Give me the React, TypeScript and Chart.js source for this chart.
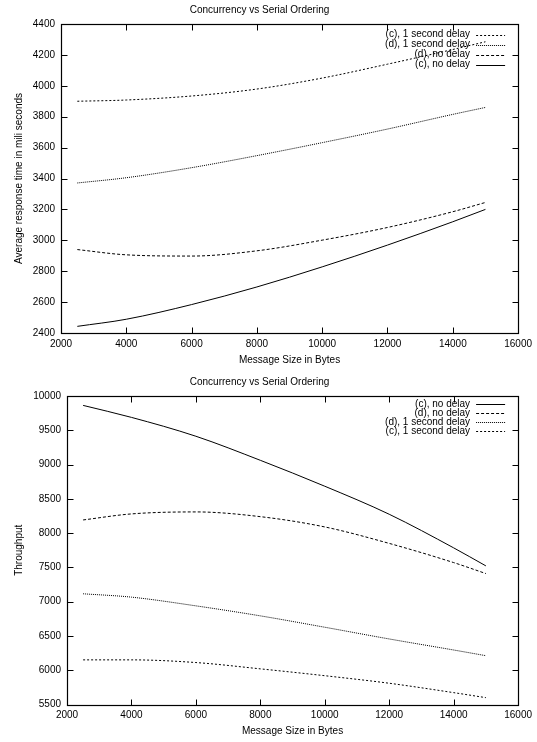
import React, { useEffect, useRef } from "react";
import { Chart, registerables } from "chart.js";

Chart.register(...registerables);

// ---- data ----
const messageSizes = [2500, 4000, 6000, 8000, 10000, 12000, 14000, 15000];

// Chart 1: Average response time (ms)
const respC1s = [3900, 3908, 3934, 3979, 4050, 4140, 4235, 4285];
const respD1s = [3371, 3405, 3470, 3548, 3632, 3720, 3815, 3860];
const respDNo = [2940, 2906, 2898, 2932, 3001, 3083, 3185, 3245];
const respCNo = [2443, 2489, 2584, 2698, 2828, 2969, 3120, 3200];

// Chart 2: Throughput
const thrCNo = [9863, 9688, 9413, 9062, 8684, 8275, 7785, 7522];
const thrDNo = [8192, 8280, 8309, 8240, 8090, 7850, 7570, 7410];
const thrD1s = [7115, 7066, 6939, 6793, 6627, 6456, 6295, 6212];
const thrC1s = [6151, 6151, 6112, 6020, 5920, 5810, 5673, 5600];

const labelC1s = "(c), 1 second delay";
const labelD1s = "(d), 1 second delay";
const labelDNo = "(d), no delay";
const labelCNo = "(c), no delay";

const chartTitle = "Concurrency vs Serial Ordering";
const xTitle = "Message Size in Bytes";
const yTitle1 = "Average response time in mili seconds";
const yTitle2 = "Throughput";

const FONT = "'Liberation Sans', Arial, Helvetica, sans-serif";

const dashSolid: number[] = [];
const dashDNo = [3, 2];
const dashD1s = [1, 1];
const dashC1s = [2, 2];

const framePlugin = {
  id: "gnuFrame",
  afterDatasetsDraw(chart: any) {
    const { ctx, chartArea: a, scales } = chart;
    const xs = scales.x;
    const ys = scales.y;
    ctx.save();
    ctx.strokeStyle = "#000";
    ctx.lineWidth = 1;
    ctx.beginPath();
    const L = Math.round(a.left) + 0.5;
    const R = Math.round(a.right) + 0.5;
    const T = Math.round(a.top) + 0.5;
    const B = Math.round(a.bottom) + 0.5;
    xs.ticks.forEach((t: any) => {
      const p = Math.round(xs.getPixelForValue(t.value)) + 0.5;
      ctx.moveTo(p, B);
      ctx.lineTo(p, B - 6);
      ctx.moveTo(p, T);
      ctx.lineTo(p, T + 6);
    });
    ys.ticks.forEach((t: any) => {
      const p = Math.round(ys.getPixelForValue(t.value)) + 0.5;
      ctx.moveTo(L, p);
      ctx.lineTo(L + 6, p);
      ctx.moveTo(R, p);
      ctx.lineTo(R - 6, p);
    });
    ctx.stroke();
    ctx.lineWidth = 1.2;
    ctx.strokeRect(L, T, R - L, B - T);
    ctx.restore();
  },
};

const legendPlugin = {
  id: "gnuLegend",
  afterDatasetsDraw(chart: any, _args: any, opts: any) {
    const { ctx, chartArea: a } = chart;
    ctx.save();
    ctx.font = `10px ${FONT}`;
    ctx.fillStyle = "#000";
    ctx.textAlign = "right";
    ctx.textBaseline = "middle";
    chart.data.datasets.forEach((ds: any, i: number) => {
      const y = a.top + opts.start + i * opts.step;
      ctx.fillText(ds.label, a.right - 48, y);
      ctx.beginPath();
      ctx.setLineDash(ds.borderDash || []);
      ctx.strokeStyle = "#000";
      ctx.lineWidth = 1;
      ctx.moveTo(a.right - 42, Math.round(y) + 0.5);
      ctx.lineTo(a.right - 13, Math.round(y) + 0.5);
      ctx.stroke();
    });
    ctx.restore();
  },
};

type Series = { label: string; values: number[]; dash: number[] };

function makeConfig(
  series: Series[],
  yMin: number,
  yMax: number,
  yStep: number,
  yTitle: string,
  yWidth: number,
  xHeight: number,
  titlePad: { top: number; bottom: number },
  legend: { start: number; step: number }
): any {
  return {
    type: "line",
    data: {
      datasets: series.map((s) => ({
        label: s.label,
        data: messageSizes.map((x, i) => ({ x, y: s.values[i] })),
        borderColor: "#000",
        borderWidth: 1,
        borderDash: s.dash,
        pointRadius: 0,
        fill: false,
        cubicInterpolationMode: "monotone",
      })),
    },
    options: {
      responsive: false,
      animation: false,
      layout: { padding: { left: 0, right: 18, top: 0, bottom: 0 } },
      plugins: {
        legend: { display: false },
        tooltip: { enabled: false },
        title: {
          display: true,
          text: chartTitle,
          color: "#000",
          font: { family: FONT, size: 10, weight: "normal" },
          padding: titlePad,
        },
        gnuLegend: legend,
      },
      scales: {
        x: {
          type: "linear",
          min: 2000,
          max: 16000,
          ticks: {
            stepSize: 2000,
            color: "#000",
            padding: 5,
            font: { family: FONT, size: 10 },
            maxRotation: 0,
            autoSkip: false,
            callback: (v: any) => String(v),
          },
          grid: { display: false, drawTicks: false },
          border: { display: false },
          title: {
            display: true,
            text: xTitle,
            color: "#000",
            font: { family: FONT, size: 10 },
            padding: { top: 0, bottom: 5 },
          },
          afterFit: (s: any) => {
            s.height = xHeight;
          },
        },
        y: {
          type: "linear",
          min: yMin,
          max: yMax,
          ticks: {
            stepSize: yStep,
            color: "#000",
            padding: 6,
            font: { family: FONT, size: 10 },
            autoSkip: false,
            callback: (v: any) => String(v),
          },
          grid: { display: false, drawTicks: false },
          border: { display: false },
          title: {
            display: true,
            text: yTitle,
            color: "#000",
            font: { family: FONT, size: 10 },
            padding: { top: 13, bottom: 0 },
          },
          afterFit: (s: any) => {
            s.width = yWidth;
          },
        },
      },
    },
    plugins: [framePlugin, legendPlugin],
  };
}

function ChartBox({ config }: { config: () => any }) {
  const ref = useRef<HTMLCanvasElement | null>(null);
  useEffect(() => {
    if (!ref.current) return;
    const chart = new Chart(ref.current, config());
    return () => chart.destroy();
  }, []);
  return <canvas ref={ref} width={537} height={371} style={{ display: "block" }} />;
}

export default function App() {
  const cfg1 = () =>
    makeConfig(
      [
        { label: labelC1s, values: respC1s, dash: dashC1s },
        { label: labelD1s, values: respD1s, dash: dashD1s },
        { label: labelDNo, values: respDNo, dash: dashDNo },
        { label: labelCNo, values: respCNo, dash: dashSolid },
      ],
      2400,
      4400,
      200,
      yTitle1,
      61,
      38,
      { top: 4, bottom: 8 },
      { start: 10.5, step: 10 }
    );
  const cfg2 = () =>
    makeConfig(
      [
        { label: labelCNo, values: thrCNo, dash: dashSolid },
        { label: labelDNo, values: thrDNo, dash: dashDNo },
        { label: labelD1s, values: thrD1s, dash: dashD1s },
        { label: labelC1s, values: thrC1s, dash: dashC1s },
      ],
      5500,
      10000,
      500,
      yTitle2,
      67,
      37.5,
      { top: 5, bottom: 8 },
      { start: 8, step: 9 }
    );
  return (
    <div style={{ position: "absolute", left: 0, top: 0, width: 537, height: 742, background: "#fff" }}>
      <ChartBox config={cfg1} />
      <ChartBox config={cfg2} />
    </div>
  );
}
